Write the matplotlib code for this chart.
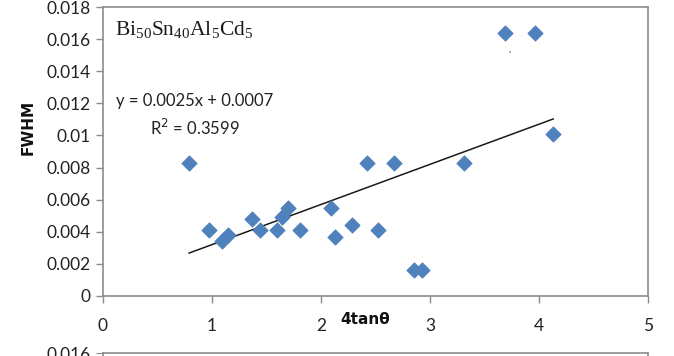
import numpy as np
import matplotlib
matplotlib.use("Agg")
import matplotlib.pyplot as plt

plt.rcParams["font.family"] = ["Lato", "DejaVu Sans"]
plt.rcParams["mathtext.fontset"] = "custom"
plt.rcParams["mathtext.rm"] = "Liberation Serif"
plt.rcParams["mathtext.it"] = "Liberation Serif:italic"

# Williamson-Hall data: 4tan(theta) vs FWHM
tan4 = [0.79, 0.97, 1.09, 1.15, 1.37, 1.44, 1.60, 1.64, 1.70, 1.81,
        2.09, 2.13, 2.28, 2.52, 2.85, 2.93, 2.42, 2.67, 3.31, 4.13,
        3.69, 3.96]
fwhm = [0.0083, 0.0041, 0.0034, 0.0038, 0.0048, 0.0041, 0.0041, 0.0049, 0.0055, 0.0041,
        0.0055, 0.0037, 0.0044, 0.0041, 0.0016, 0.0016, 0.0083, 0.0083, 0.0083, 0.0101,
        0.0164, 0.0164]

# linear trend as reported on the chart
slope = 0.0025
intercept = 0.0007
r2 = 0.3599

ytick_vals = [0, 0.002, 0.004, 0.006, 0.008, 0.01, 0.012, 0.014, 0.016, 0.018]
ytick_txt = ["0", "0.002", "0.004", "0.006", "0.008", "0.01", "0.012", "0.014", "0.016", "0.018"]
xtick_vals = [0, 1, 2, 3, 4, 5]

W, H = 674, 356
fig = plt.figure(figsize=(W / 100, H / 100), dpi=100)
ax = fig.add_axes([103 / W, 1 - 296 / H, (648 - 103) / W, (296 - 7) / H])

grey = "#8c8c8c"
ax.scatter(tan4, fwhm, marker="D", s=62, color="#4F81BD", edgecolors="#4F81BD",
           linewidths=0.5, zorder=3)

xs = np.array([min(tan4), max(tan4)])
ax.plot(xs, slope * xs + intercept, color="#1a1a1a", linewidth=1.1, zorder=2)

ax.set_xlim(0, 5)
ax.set_ylim(0, 0.018)
ax.set_xticks(xtick_vals)
ax.set_xticklabels([str(v) for v in xtick_vals])
ax.set_yticks(ytick_vals)
ax.set_yticklabels(ytick_txt)
ax.tick_params(axis="both", direction="out", length=5, width=1, color=grey,
               labelsize=12.5, labelcolor="#222222")
ax.tick_params(axis="x", pad=11)
ax.tick_params(axis="y", pad=4)
for s in ax.spines.values():
    s.set_color(grey)
    s.set_linewidth(1.2)

fig.text(28 / W, 1 - 127 / H, "FWHM", rotation=90, ha="center", va="center",
         fontsize=11, fontweight="bold", family=["DejaVu Sans"], color="#111111")
fig.text(365 / W, 1 - 320 / H, "4tan\u03b8", ha="center", va="center",
         fontsize=11, fontweight="bold", family=["DejaVu Sans"], color="#111111")

fig.text(115 / W, 1 - 30 / H, r"$\mathrm{Bi_{50}Sn_{40}Al_{5}Cd_{5}}$",
         fontsize=15.5, color="#1a1a1a", va="center", ha="left")
fig.text(195 / W, 1 - 101 / H, "y = {:.4f}x + {:.4f}".format(slope, intercept),
         fontsize=12, color="#222222", ha="center", va="center")
fig.text(195 / W, 1 - 128 / H, "R$^2$ = {:.4f}".format(r2),
         fontsize=12, color="#222222", ha="center", va="center",
         math_fontfamily="dejavusans")
ax.text(3.73, 0.0150, "'", fontsize=7, color="#333333", ha="center", va="center")

# top of the next panel, cut off by the figure edge
ax2 = fig.add_axes([103 / W, 1 - 460 / H, (648 - 103) / W, (460 - 353) / H])
ax2.set_xlim(0, 5)
ax2.set_ylim(0, 0.016)
ax2.set_yticks([0.016])
ax2.set_yticklabels(["0.016"])
ax2.set_xticks([])
ax2.tick_params(axis="y", direction="out", length=5, color=grey,
                labelsize=12.5, labelcolor="#222222", pad=4)
for s in ax2.spines.values():
    s.set_color(grey)
    s.set_linewidth(1.2)

fig.savefig("out.png", dpi=100)
